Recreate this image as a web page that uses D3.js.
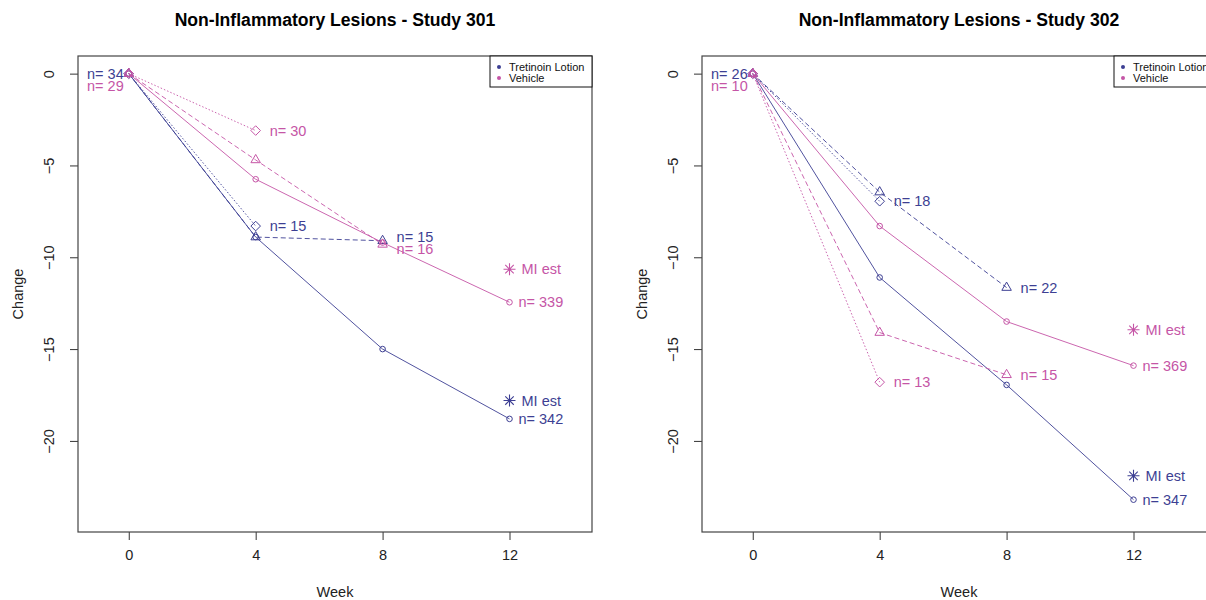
<!DOCTYPE html>
<html>
<head>
<meta charset="utf-8">
<script src="https://cdn.jsdelivr.net/npm/d3@7/dist/d3.min.js"></script>
<style>
  html, body { margin: 0; padding: 0; background: #fff; }
  svg { display: block; font-family: "Liberation Sans", Arial, sans-serif; }
</style>
</head>
<body>
<svg id="chart" width="1206" height="600"></svg>
<script>
// ---------- data ----------
const weeks = [0, 4, 8, 12];
const xTicks = [0, 4, 8, 12];
const yTicks = [0, -5, -10, -15, -20];
const seriesNames = ["Tretinoin Lotion", "Vehicle"];
const titles = ["Non-Inflammatory Lesions - Study 301", "Non-Inflammatory Lesions - Study 302"];

// Study 301
const s301TretAll  = [0, -8.9, -15.0, -18.8];
const s301TretDash = [0, -8.9, -9.1];
const s301TretDot  = [0, -8.3];
const s301VehAll   = [0, -5.75, -9.2, -12.45];
const s301VehDash  = [0, -4.7, -9.3];
const s301VehDot   = [0, -3.1];
const s301MI       = [-17.8, -10.65];          // Tretinoin, Vehicle
const s301TretN    = ["34", "15", "15", "342"]; // baseline, dotted end, dashed end, solid end
const s301VehN     = ["29", "30", "16", "339"];

// Study 302
const s302TretAll  = [0, -11.1, -16.95, -23.2];
const s302TretDash = [0, -6.45, -11.65];
const s302TretDot  = [0, -6.95];
const s302VehAll   = [0, -8.3, -13.5, -15.9];
const s302VehDash  = [0, -14.1, -16.4];
const s302VehDot   = [0, -16.8];
const s302MI       = [-21.9, -13.95];
const s302TretN    = ["26", "18", "22", "347"];
const s302VehN     = ["10", "13", "15", "369"];

// ---------- style ----------
const colors = ["#3d3f93", "#c555a6"];
const fs = 14.5;
const svg = d3.select("#chart");
svg.append("rect").attr("width", 1206).attr("height", 600).attr("fill", "#fff");

const panels = [
  { left: 78, title: titles[0],
    groups: [
      { all: s301TretAll, dash: s301TretDash, dot: s301TretDot, mi: s301MI[0], n: s301TretN },
      { all: s301VehAll,  dash: s301VehDash,  dot: s301VehDot,  mi: s301MI[1], n: s301VehN }
    ] },
  { left: 702, title: titles[1],
    groups: [
      { all: s302TretAll, dash: s302TretDash, dot: s302TretDot, mi: s302MI[0], n: s302TretN },
      { all: s302VehAll,  dash: s302VehDash,  dot: s302VehDot,  mi: s302MI[1], n: s302VehN }
    ] }
];

const plotW = 514, plotTop = 56, plotBottom = 532;

function triPath(s) { return `M0,${-s*1.1}L${s*0.95},${s*0.55}L${-s*0.95},${s*0.55}Z`; }
function diaPath(s) { return `M0,${-s}L${s},0L0,${s}L${-s},0Z`; }
function starPath(r) {
  let p = "";
  for (let k = 0; k < 4; k++) {
    const a = k * Math.PI / 4;
    const dx = r * Math.cos(a), dy = r * Math.sin(a);
    p += `M${-dx},${-dy}L${dx},${dy}`;
  }
  return p;
}

panels.forEach(panel => {
  const x = d3.scaleLinear().domain([-1.6, 14.6]).range([panel.left, panel.left + plotW]);
  const y = d3.scaleLinear().domain([-24.96, 0.96]).range([plotBottom, plotTop]);
  const g = svg.append("g");
  const cx = panel.left + plotW / 2;

  // title
  g.append("text").attr("x", cx).attr("y", 26).attr("text-anchor", "middle")
    .attr("font-size", 17.6).attr("font-weight", "bold").attr("fill", "#000").text(panel.title);

  // axes
  const xAxis = d3.axisBottom(x).tickValues(xTicks).tickSize(8).tickPadding(10).tickFormat(d3.format("d"));
  const xg = g.append("g").attr("transform", `translate(0,${plotBottom})`).call(xAxis);
  xg.select(".domain").remove();
  xg.selectAll("line").attr("stroke", "#333");
  xg.selectAll("text").attr("font-size", fs).attr("fill", "#222").attr("font-family", "Liberation Sans, Arial, sans-serif");

  const yAxis = d3.axisLeft(y).tickValues(yTicks).tickSize(8).tickFormat(d3.format("d"));
  const yg = g.append("g").attr("transform", `translate(${panel.left},0)`).call(yAxis);
  yg.select(".domain").remove();
  yg.selectAll("line").attr("stroke", "#333");
  yg.selectAll("text").attr("font-size", fs).attr("fill", "#222")
    .attr("font-family", "Liberation Sans, Arial, sans-serif")
    .attr("text-anchor", "middle").attr("x", null)
    .attr("transform", "translate(-29,0) rotate(-90)").attr("dy", "0.35em");

  // box
  g.append("rect").attr("x", panel.left).attr("y", plotTop).attr("width", plotW).attr("height", plotBottom - plotTop)
    .attr("fill", "none").attr("stroke", "#444").attr("stroke-width", 1.2);

  // axis titles
  g.append("text").attr("x", cx).attr("y", 597).attr("text-anchor", "middle")
    .attr("font-size", fs).attr("fill", "#222").text("Week");
  g.append("text").attr("transform", `translate(${panel.left - 60},${(plotTop + plotBottom) / 2}) rotate(-90)`)
    .attr("text-anchor", "middle").attr("dy", "0.35em")
    .attr("font-size", fs).attr("fill", "#222").text("Change");

  const line = d3.line().x((d, i) => x(weeks[i])).y(d => y(d));
  const labels = [];

  panel.groups.forEach((grp, gi) => {
    const col = colors[gi];
    const lg = g.append("g");
    lg.append("path").attr("d", line(grp.dot)).attr("fill", "none").attr("stroke", col)
      .attr("stroke-width", 1).attr("stroke-dasharray", "1.5,2").attr("opacity", 0.9);
    lg.append("path").attr("d", line(grp.dash)).attr("fill", "none").attr("stroke", col)
      .attr("stroke-width", 1).attr("stroke-dasharray", "5,3").attr("opacity", 0.9);
    lg.append("path").attr("d", line(grp.all)).attr("fill", "none").attr("stroke", col)
      .attr("stroke-width", 1).attr("opacity", 0.9);
    grp.all.forEach((v, i) => {
      lg.append("circle").attr("cx", x(weeks[i])).attr("cy", y(v)).attr("r", 2.8)
        .attr("fill", "none").attr("stroke", col).attr("stroke-width", 1);
    });
    grp.dash.forEach((v, i) => {
      lg.append("path").attr("d", triPath(5)).attr("transform", `translate(${x(weeks[i])},${y(v)})`)
        .attr("fill", "none").attr("stroke", col).attr("stroke-width", 1);
    });
    grp.dot.forEach((v, i) => {
      lg.append("path").attr("d", diaPath(4.8)).attr("transform", `translate(${x(weeks[i])},${y(v)})`)
        .attr("fill", "none").attr("stroke", col).attr("stroke-width", 1);
    });
    lg.append("path").attr("d", starPath(6)).attr("transform", `translate(${x(12)},${y(grp.mi)})`)
      .attr("fill", "none").attr("stroke", col).attr("stroke-width", 1.1);
    lg.append("text").attr("x", x(12) + 12).attr("y", y(grp.mi)).attr("dy", "0.35em")
      .attr("font-size", fs).attr("fill", col).text("MI est");

    labels.push({ week: 0, anchor: "end", x: x(0) - 5, y: y(grp.all[0]) + gi * 12, text: "n= " + grp.n[0], col, fixed: true });
    const ends = [grp.dot, grp.dash, grp.all];
    ends.forEach((arr, k) => {
      const wi = arr.length - 1;
      const off = wi === 3 ? 9 : 14;
      labels.push({ week: weeks[wi], anchor: "start", x: x(weeks[wi]) + off, y: y(arr[wi]), text: "n= " + grp.n[k + 1], col, fixed: false });
    });
  });

  const movable = labels.filter(l => !l.fixed);
  d3.groups(movable, l => l.week).forEach(([wk, arr]) => {
    arr.sort((a, b) => a.y - b.y);
    for (let i = 1; i < arr.length; i++) {
      if (arr[i].y - arr[i - 1].y < 12.5) {
        const mid = (arr[i].y + arr[i - 1].y) / 2;
        arr[i - 1].y = mid - 5.5;
        arr[i].y = mid + 6.5;
      }
    }
  });

  labels.forEach(l => {
    g.append("text").attr("x", l.x).attr("y", l.y).attr("dy", "0.35em")
      .attr("text-anchor", l.anchor).attr("font-size", fs).attr("fill", l.col).text(l.text);
  });

  const lgx = panel.left + plotW - 102;
  const leg = g.append("g");
  leg.append("rect").attr("x", lgx).attr("y", plotTop).attr("width", 102).attr("height", 31)
    .attr("fill", "#fff").attr("stroke", "#111").attr("stroke-width", 1);
  seriesNames.forEach((nm, i) => {
    const yy = plotTop + 11 + i * 11;
    leg.append("circle").attr("cx", lgx + 9).attr("cy", yy).attr("r", 2).attr("fill", colors[i]);
    leg.append("text").attr("x", lgx + 19).attr("y", yy).attr("dy", "0.35em")
      .attr("font-size", 11).attr("fill", "#111").text(nm);
  });
});
</script>
</body>
</html>
